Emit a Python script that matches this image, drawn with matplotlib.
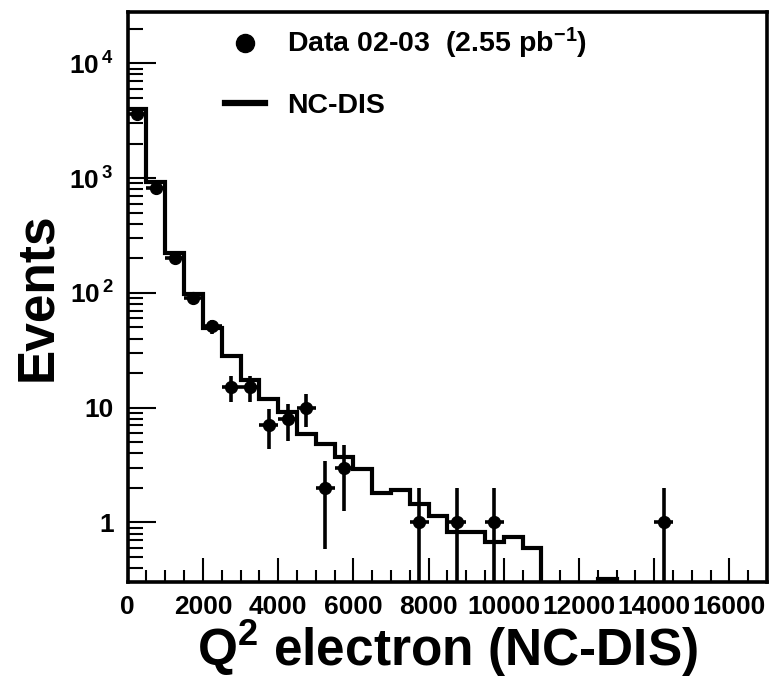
import numpy as np
import matplotlib
matplotlib.use('Agg')
import matplotlib.pyplot as plt
from matplotlib.lines import Line2D
from matplotlib.ticker import MultipleLocator, FixedLocator, FixedFormatter, LogLocator, NullFormatter

plt.rcParams['font.family'] = ['Liberation Sans', 'DejaVu Sans']
plt.rcParams['font.weight'] = 'bold'
plt.rcParams['axes.labelweight'] = 'bold'
plt.rcParams['mathtext.fontset'] = 'custom'
plt.rcParams['mathtext.rm'] = 'Liberation Sans:bold'
plt.rcParams['mathtext.bf'] = 'Liberation Sans:bold'
plt.rcParams['mathtext.default'] = 'rm'

# NC-DIS expectation, 500 GeV^2 bins from 0 to 17000
bin_edges = np.arange(0, 17001, 500)
mc_counts = [4000, 920, 222, 97, 49, 28, 17.5, 11.9, 9.2, 5.9, 4.8, 3.75,
             2.94, 1.8, 1.92, 1.46, 1.13, 0.83, 0.83, 0.68, 0.75, 0.60,
             0, 0, 0, 0.32, 0, 0, 0, 0, 0, 0, 0, 0]

# data 02-03
data_q2 = [250, 750, 1250, 1750, 2250, 2750, 3250, 3750, 4250, 4750,
           5250, 5750, 7750, 8750, 9750, 14250]
data_n = [3650, 820, 200, 90, 51, 15, 15, 7, 8, 10, 2, 3, 1, 1, 1, 1]

ytick_vals = [1, 10, 100, 1000, 10000]
ytick_labels = ['1', '10', r'10$^{\,2}$', r'10$^{\,3}$', r'10$^{\,4}$']

fig = plt.figure(figsize=(7.8, 6.9), dpi=100)
ax = fig.add_axes([0.1637, 0.1565, 0.8196, 0.8261])

mc = np.array(mc_counts, dtype=float)
# empty bins drawn below the axis floor, like ROOT does
mc_draw = np.where(mc > 0, mc, 1e-3)
ax.stairs(mc_draw, bin_edges, color='black', lw=3.0, baseline=None)

n = np.array(data_n, dtype=float)
err = np.sqrt(n)
ax.errorbar(data_q2, n, yerr=[n - np.maximum(n - err, 1e-3), err], xerr=250,
            fmt='o', color='black', ms=8.5, elinewidth=2.6, capsize=0, zorder=3)

ax.set_yscale('log', nonpositive='clip')
ax.set_xlim(0, 17000)
ax.set_ylim(0.303, 28000)

ax.xaxis.set_major_locator(MultipleLocator(2000))
ax.xaxis.set_minor_locator(MultipleLocator(500))
ax.yaxis.set_major_locator(FixedLocator(ytick_vals))
ax.yaxis.set_major_formatter(FixedFormatter(ytick_labels))
ax.yaxis.set_minor_locator(LogLocator(base=10, subs=np.arange(2, 10)))
ax.yaxis.set_minor_formatter(NullFormatter())

ax.tick_params(which='both', direction='in', top=False, right=False, width=1.5)
ax.tick_params(which='major', axis='x', length=17, pad=9, labelsize=19)
ax.tick_params(which='minor', axis='x', length=9)
ax.tick_params(which='major', axis='y', length=20, pad=10, labelsize=19)
ax.tick_params(which='minor', axis='y', length=11)
for sp in ax.spines.values():
    sp.set_linewidth(2.6)

ax.set_xlabel(r'Q$^{2}$ electron (NC-DIS)', fontsize=37, labelpad=0)
ax.set_ylabel('Events', fontsize=37)
ax.yaxis.set_label_coords(-0.103, 0.5)

handles = [Line2D([], [], marker='o', ls='none', ms=13, color='black'),
           Line2D([], [], color='black', lw=4.5)]
ax.legend(handles, [r'Data 02-03  (2.55 pb$^{-1}$)', 'NC-DIS'],
          loc='upper left', bbox_to_anchor=(0.152, 0.975), frameon=False,
          fontsize=20.5, handlelength=1.4, handletextpad=0.8, labelspacing=1.1,
          borderpad=0, borderaxespad=0)

fig.savefig('out.png', dpi=100)
